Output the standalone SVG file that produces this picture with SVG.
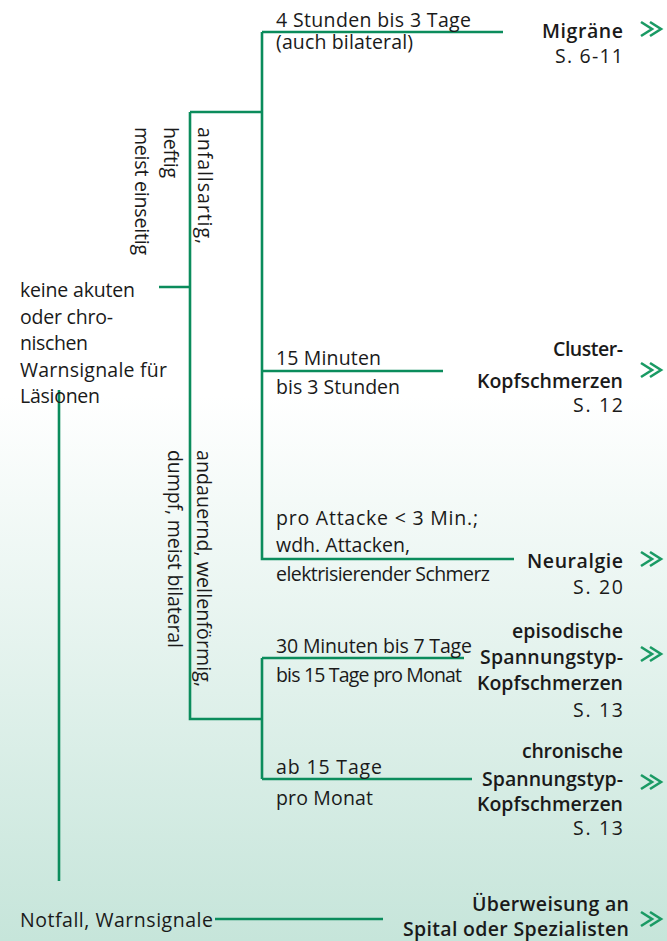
<svg xmlns="http://www.w3.org/2000/svg" width="667" height="941" viewBox="0 0 667 941">
<defs>
<linearGradient id="bg" x1="0" y1="0" x2="0" y2="1">
<stop offset="0" stop-color="#ffffff"/>
<stop offset="0.42" stop-color="#ffffff"/>
<stop offset="1" stop-color="#c6e5da"/>
</linearGradient>
<g id="chev">
<path d="M0,-7 L11,0 L0,7 M9,-7 L20,0 L9,7" fill="none" stroke="#1a9a64" stroke-width="2.6" stroke-linejoin="miter"/>
</g>
<style>
.t{font-family:"Open Sans","Liberation Sans",sans-serif;font-size:19.5px;fill:#1a1a1a}
.b{font-weight:600;text-anchor:end}
.r{text-anchor:end}
.ln{fill:none;stroke:#0b8c5c;stroke-width:2.6}
</style>
</defs>
<rect x="0" y="0" width="667" height="941" fill="url(#bg)"/>
<g id="connectors">
<path class="ln" d="M262,32 H503 M262,32 V559 H514 M262,371 H443 M190,112 H262 M159,287 H190 M190,112 V719 H262 M262,658 V779 M262,658 H464 M262,779 H472"/>
<path class="ln" d="M59,390 V881 M215,919 H383"/>
</g>
<g id="root-left" class="t">
<text x="20" y="297" textLength="115" lengthAdjust="spacing">keine akuten</text>
<text x="20" y="323.5" textLength="93" lengthAdjust="spacing">oder chro-</text>
<text x="20" y="350" textLength="68" lengthAdjust="spacing">nischen</text>
<text x="20" y="376.5" textLength="147" lengthAdjust="spacing">Warnsignale für</text>
<text x="20" y="403" textLength="80" lengthAdjust="spacing">Läsionen</text>
</g>
<g id="root-notfall" class="t">
<text x="20" y="927" textLength="193" lengthAdjust="spacing">Notfall, Warnsignale</text>
</g>
<g id="branch-anfall" class="t">
<text transform="translate(198,127) rotate(90)" textLength="117" lengthAdjust="spacing">anfallsartig,</text>
<text transform="translate(164,127) rotate(90)" textLength="51" lengthAdjust="spacing">heftig</text>
<text transform="translate(135,127) rotate(90)" textLength="128" lengthAdjust="spacing">meist einseitig</text>
</g>
<g id="branch-andauernd" class="t">
<text transform="translate(197,450) rotate(90)" textLength="237" lengthAdjust="spacing">andauernd, wellenförmig,</text>
<text transform="translate(168,450) rotate(90)" textLength="198" lengthAdjust="spacing">dumpf, meist bilateral</text>
</g>
<g id="edge-labels" class="t">
<text x="276" y="27" textLength="195" lengthAdjust="spacing">4 Stunden bis 3 Tage</text>
<text x="276" y="49" textLength="137" lengthAdjust="spacing">(auch bilateral)</text>
<text x="276" y="365" textLength="105" lengthAdjust="spacing">15 Minuten</text>
<text x="276" y="394" textLength="124" lengthAdjust="spacing">bis 3 Stunden</text>
<text x="276" y="525" textLength="202" lengthAdjust="spacing">pro Attacke &lt; 3 Min.;</text>
<text x="276" y="552" textLength="134" lengthAdjust="spacing">wdh. Attacken,</text>
<text x="276" y="581" textLength="214" lengthAdjust="spacing">elektrisierender Schmerz</text>
<text x="276" y="653" textLength="196" lengthAdjust="spacing">30 Minuten bis 7 Tage</text>
<text x="276" y="682" textLength="186" lengthAdjust="spacing">bis 15 Tage pro Monat</text>
<text x="276" y="774" textLength="106" lengthAdjust="spacing">ab 15 Tage</text>
<text x="276" y="805" textLength="97" lengthAdjust="spacing">pro Monat</text>
</g>
<g id="node-migraene" class="t">
<text class="b" x="623" y="38" textLength="81" lengthAdjust="spacing">Migräne</text>
<text class="r" x="623" y="63" textLength="68" lengthAdjust="spacing">S. 6-11</text>
<use href="#chev" x="641" y="29"/>
</g>
<g id="node-cluster" class="t">
<text class="b" x="623" y="356" textLength="70" lengthAdjust="spacing">Cluster-</text>
<text class="b" x="623" y="388" textLength="146" lengthAdjust="spacing">Kopfschmerzen</text>
<text class="r" x="623" y="412" textLength="50" lengthAdjust="spacing">S. 12</text>
<use href="#chev" x="641" y="370"/>
</g>
<g id="node-neuralgie" class="t">
<text class="b" x="623" y="568" textLength="96" lengthAdjust="spacing">Neuralgie</text>
<text class="r" x="623" y="594" textLength="50" lengthAdjust="spacing">S. 20</text>
<use href="#chev" x="641" y="559"/>
</g>
<g id="node-episodisch" class="t">
<text class="b" x="623" y="638" textLength="111" lengthAdjust="spacing">episodische</text>
<text class="b" x="623" y="664" textLength="143" lengthAdjust="spacing">Spannungstyp-</text>
<text class="b" x="623" y="690" textLength="146" lengthAdjust="spacing">Kopfschmerzen</text>
<text class="r" x="623" y="717" textLength="50" lengthAdjust="spacing">S. 13</text>
<use href="#chev" x="641" y="654"/>
</g>
<g id="node-chronisch" class="t">
<text class="b" x="623" y="758" textLength="101" lengthAdjust="spacing">chronische</text>
<text class="b" x="623" y="786" textLength="141" lengthAdjust="spacing">Spannungstyp-</text>
<text class="b" x="623" y="811" textLength="146" lengthAdjust="spacing">Kopfschmerzen</text>
<text class="r" x="623" y="835" textLength="50" lengthAdjust="spacing">S. 13</text>
<use href="#chev" x="641" y="782"/>
</g>
<g id="node-ueberweisung" class="t">
<text class="b" x="629" y="911" textLength="157" lengthAdjust="spacing">Überweisung an</text>
<text class="b" x="629" y="936" textLength="226" lengthAdjust="spacing">Spital oder Spezialisten</text>
<use href="#chev" x="641" y="919"/>
</g>
</svg>
